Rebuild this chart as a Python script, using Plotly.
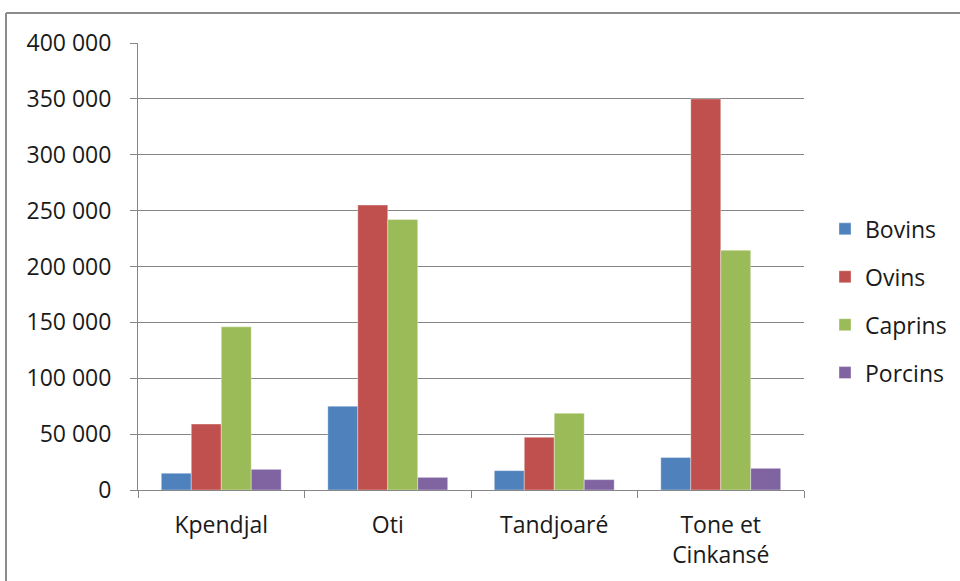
import plotly.graph_objects as go

# Livestock counts by prefecture
categories = ["Kpendjal", "Oti", "Tandjoaré", "Tone et<br>Cinkansé"]
bovins = [15000, 75000, 17300, 29000]
ovins = [59000, 255000, 47200, 350000]
caprins = [146000, 242000, 68700, 214500]
porcins = [18500, 11300, 9300, 19400]

series = [
    ("Bovins", bovins, "#4F81BD"),
    ("Ovins", ovins, "#C0504D"),
    ("Caprins", caprins, "#9BBB59"),
    ("Porcins", porcins, "#8064A2"),
]

W, H = 960, 581
L, R, T, B = 138, 156, 43, 91
pw, ph = W - L - R, H - T - B

font_family = "Open Sans, sans-serif"

fig = go.Figure()
for name, vals, color in series:
    fig.add_trace(go.Bar(
        x=categories, y=vals, name=name, legendgroup=name,
        marker=dict(color=color, line=dict(color="rgba(255,255,255,0.6)", width=0.6)),
    ))

fig.update_layout(
    width=W, height=H,
    margin=dict(l=L, r=R, t=T, b=B, pad=0, autoexpand=False),
    paper_bgcolor="white", plot_bgcolor="white",
    barmode="group", bargap=0.28, bargroupgap=0,
    separators=", ",
    font=dict(family=font_family, size=23, color="#1a1a1a"),
    legend=dict(
        x=(825 - L) / pw, y=0.423, xanchor="left", yanchor="middle",
        traceorder="grouped", tracegroupgap=15,
        font=dict(size=23), itemwidth=30,
        bgcolor="rgba(0,0,0,0)",
    ),
    xaxis=dict(
        showgrid=False, showline=True, linecolor="#868686", linewidth=1,
        ticks="outside", tickson="boundaries", ticklen=7, tickcolor="#868686",
        tickfont=dict(size=23), ticklabelstandoff=14,
    ),
    yaxis=dict(
        range=[0, 400000], dtick=50000, tickformat=",d",
        showgrid=True, gridcolor="#868686", gridwidth=1,
        showline=True, linecolor="#868686", linewidth=1,
        ticks="outside", ticklen=7, tickcolor="#868686",
        zeroline=False, tickfont=dict(size=23), ticklabelstandoff=14,
    ),
    shapes=[
        # chart-area frame
        dict(type="line", xref="paper", yref="paper",
             x0=(6 - L) / pw, x1=(970 - L) / pw,
             y0=(H - B - 13) / ph, y1=(H - B - 13) / ph,
             line=dict(color="#8c8c8c", width=2)),
        dict(type="line", xref="paper", yref="paper",
             x0=(6 - L) / pw, x1=(6 - L) / pw,
             y0=(H - B - 13) / ph, y1=(H - B - 590) / ph,
             line=dict(color="#8c8c8c", width=2)),
    ],
)

fig.write_html("out.html")
